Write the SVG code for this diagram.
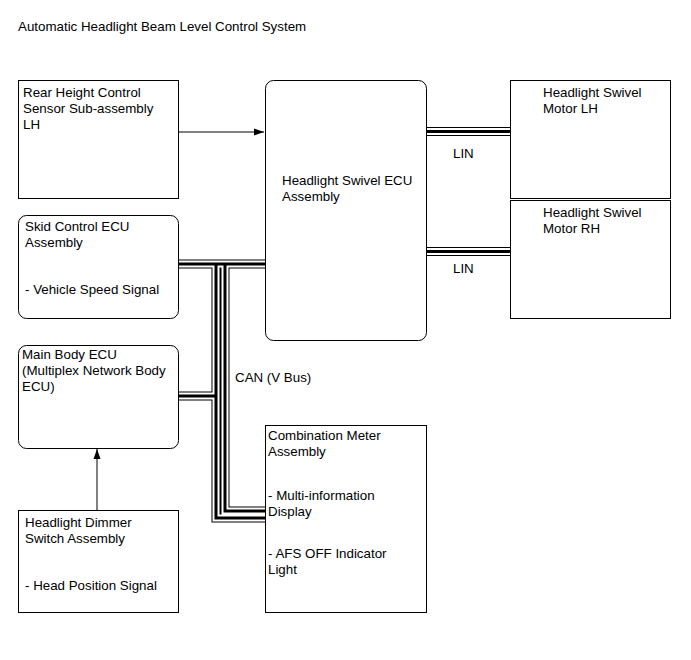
<svg xmlns="http://www.w3.org/2000/svg" width="691" height="660" viewBox="0 0 691 660">
<defs>
<style>
text{font-family:"Liberation Sans",Arial,sans-serif;font-size:13.33px;fill:#000}
.box{fill:#fff;stroke:#000;stroke-width:1}
.bo{fill:none;stroke:#000;stroke-width:9}
.bw{fill:none;stroke:#fff;stroke-width:7}
.bc{fill:none;stroke:#000;stroke-width:3}
.ln{fill:none;stroke:#000;stroke-width:1}
</style>
<marker id="ah" viewBox="0 0 10 10" refX="10" refY="5" markerWidth="10" markerHeight="10" markerUnits="userSpaceOnUse" orient="auto">
<path d="M0,1.5 L10,5 L0,8.5 Z" fill="#000"/>
</marker>
</defs>
<rect width="691" height="660" fill="#fff"/>
<text x="18" y="31">Automatic Headlight Beam Level Control System</text>

<g id="connectors">
<line class="ln" x1="178" y1="132" x2="264" y2="132" marker-end="url(#ah)"/>
<line class="ln" x1="97" y1="510" x2="97" y2="449" marker-end="url(#ah)"/>
<g id="lin">
<path class="bo" d="M426,131.5 H510 M426,251.5 H510"/>
<path class="bw" d="M426,131.5 H510 M426,251.5 H510"/>
<path class="bc" d="M426,131.5 H510 M426,251.5 H510"/>
</g>
<g id="can">
<path class="bo" d="M178,264 H265 M225,264 V511 H265 M178,396 H216 V264 M216,396 V518 H265"/>
<path class="bw" d="M178,264 H265 M225,264 V511 H265 M178,396 H216 V264 M216,396 V518 H265"/>
<path class="bc" d="M178,264 H265 M225,264 V511 H265 M178,396 H216 V264 M216,396 V518 H265"/>
</g>
<text x="453" y="158">LIN</text>
<text x="453" y="273">LIN</text>
<text x="235" y="382">CAN (V Bus)</text>
</g>

<g id="rear-height">
<rect class="box" x="18.5" y="80.5" width="160" height="118"/>
<text x="23" y="97">Rear Height Control</text>
<text x="23" y="113">Sensor Sub-assembly</text>
<text x="23" y="129">LH</text>
</g>
<g id="swivel-ecu">
<rect class="box" x="265.5" y="80.5" width="161" height="260" rx="8"/>
<text x="282" y="185">Headlight Swivel ECU</text>
<text x="282" y="201">Assembly</text>
</g>
<g id="motor-lh">
<rect class="box" x="510.5" y="80.5" width="160" height="118"/>
<text x="543" y="97">Headlight Swivel</text>
<text x="543" y="113">Motor LH</text>
</g>
<g id="motor-rh">
<rect class="box" x="510.5" y="200.5" width="160" height="118"/>
<text x="543" y="217">Headlight Swivel</text>
<text x="543" y="233">Motor RH</text>
</g>
<g id="skid-ecu">
<rect class="box" x="18.5" y="215.5" width="160" height="103" rx="8"/>
<text x="25" y="231">Skid Control ECU</text>
<text x="25" y="247">Assembly</text>
<text x="25" y="294">- Vehicle Speed Signal</text>
</g>
<g id="main-body-ecu">
<rect class="box" x="18.5" y="345.5" width="160" height="103" rx="8"/>
<text x="22" y="359">Main Body ECU</text>
<text x="22" y="375">(Multiplex Network Body</text>
<text x="22" y="391">ECU)</text>
</g>
<g id="dimmer-switch">
<rect class="box" x="18.5" y="510.5" width="160" height="102"/>
<text x="25" y="527">Headlight Dimmer</text>
<text x="25" y="543">Switch Assembly</text>
<text x="25" y="590">- Head Position Signal</text>
</g>
<g id="combination-meter">
<rect class="box" x="265.5" y="425.5" width="161" height="187"/>
<text x="268" y="440">Combination Meter</text>
<text x="268" y="456">Assembly</text>
<text x="268" y="500">- Multi-information</text>
<text x="268" y="516">Display</text>
<text x="268" y="558">- AFS OFF Indicator</text>
<text x="268" y="574">Light</text>
</g>
</svg>
